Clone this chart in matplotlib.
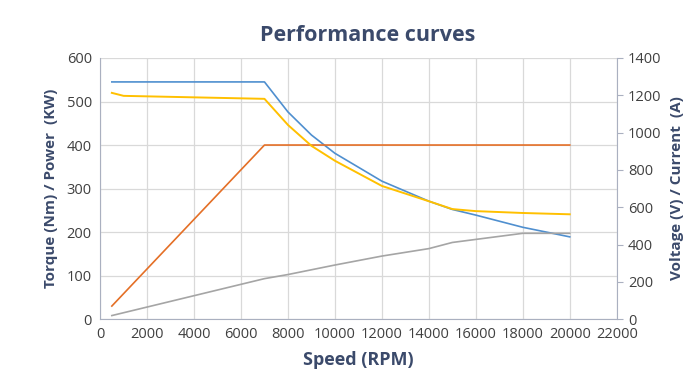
import matplotlib.pyplot as plt

plt.rcParams['font.family'] = ['Open Sans', 'DejaVu Sans']

# torque (Nm) - left axis
torque_rpm = [500, 7000, 8000, 9000, 10000, 12000, 14000, 15000, 16000, 18000, 20000]
torque = [545, 545, 476, 423, 381, 317, 271, 252, 239, 211, 189]

# power (kW) - left axis
power_rpm = [500, 7000, 20000]
power = [30, 400, 400]

# current (A) - right axis
current_rpm = [500, 1000, 7000, 8000, 9000, 10000, 12000, 14000, 15000, 16000, 18000, 20000]
current = [1213, 1197, 1181, 1041, 929, 849, 714, 632, 590, 579, 569, 562]

# voltage (V) - right axis
voltage_rpm = [500, 7000, 8000, 10000, 12000, 14000, 15000, 18000, 20000]
voltage = [19, 217, 239, 290, 338, 378, 411, 460, 460]

navy = '#3b4a6b'
txt = '#404040'
grid = '#d9d9d9'

fig = plt.figure(figsize=(7, 3.79), dpi=100)
ax = fig.add_axes([0.143, 0.158, 0.738, 0.689])
ax2 = ax.twinx()

ax.plot(torque_rpm, torque, color='#4f8fcf', lw=1.2)
ax.plot(power_rpm, power, color='#e46f26', lw=1.2)
ax2.plot(current_rpm, current, color='#ffc000', lw=1.4)
ax2.plot(voltage_rpm, voltage, color='#a5a5a5', lw=1.2)

ax.set_xlim(0, 22000)
ax.set_ylim(0, 600)
ax2.set_ylim(0, 1400)
ax.set_xticks(range(0, 22001, 2000))
ax.set_yticks(range(0, 601, 100))
ax2.set_yticks(range(0, 1401, 200))

ax.grid(True, color=grid, lw=0.9)
ax.set_axisbelow(True)

for a in (ax, ax2):
    a.spines['top'].set_visible(False)
    for s in ('left', 'right', 'bottom'):
        a.spines[s].set_color('#aab0c0')
ax.spines['right'].set_visible(False)
ax2.spines['left'].set_visible(False)
ax2.spines['bottom'].set_visible(False)

ax.tick_params(axis='both', length=0, labelsize=10.5, colors=txt, pad=6)
ax2.tick_params(axis='y', length=4, labelsize=10.5, colors=txt, color='#aab0c0', pad=4)

ax.set_xlabel('Speed (RPM)', fontsize=13, fontweight='bold', color=navy, labelpad=6)
ax.set_ylabel('Torque (Nm) / Power  (KW)', fontsize=11, fontweight='bold', color=navy, labelpad=6)
ax2.set_ylabel('Voltage (V) / Current  (A)', fontsize=11, fontweight='bold', color=navy, labelpad=6)

fig.suptitle('Performance curves', x=0.525, y=0.935, fontsize=15.5, fontweight='bold', color=navy)

fig.savefig('out.png', dpi=100)
